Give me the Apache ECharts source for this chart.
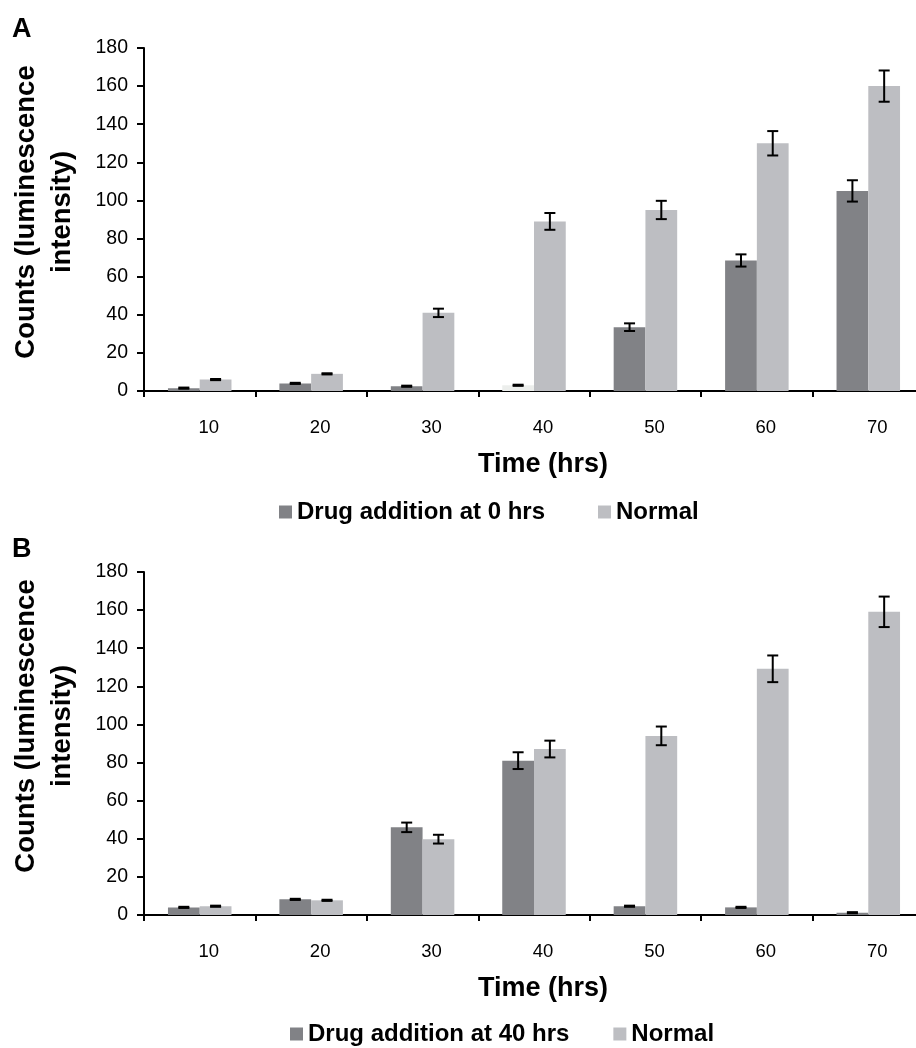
<!DOCTYPE html>
<html>
<head>
<meta charset="utf-8">
<script src="https://cdn.jsdelivr.net/npm/echarts@6/dist/echarts.min.js"></script>
<style>
html,body{margin:0;padding:0;background:#fff;}
#c{width:916px;height:1048px;}
</style>
</head>
<body>
<div id="c"></div>
<script>
const categories = ['10', '20', '30', '40', '50', '60', '70'];
const yTicks = { min: 0, max: 180, interval: 20 };

// Panel A
const seriesNameA = 'Drug addition at 0 hrs';
const drugA = [1.5, 4, 2.5, 3, 33.5, 68.5, 105];
const drugAErr = [0.3, 0.3, 0.3, 0.3, 2, 3.2, 5.6];
const normalA = [6, 9, 41, 89, 95, 130, 160];
const normalAErr = [0.3, 0.3, 2.2, 4.4, 4.8, 6.4, 8.2];

// Panel B
const seriesNameB = 'Drug addition at 40 hrs';
const drugB = [4, 8.2, 46, 81, 4.6, 4, 1.2];
const drugBErr = [0.3, 0.3, 2.5, 4.4, 0.3, 0.3, 0.3];
const normalB = [4.6, 7.7, 39.8, 87.1, 94, 129.2, 159.1];
const normalBErr = [0.3, 0.3, 2.3, 4.4, 4.9, 7, 8];

const FONT = 'Liberation Sans, Arial, Helvetica, sans-serif';
const DARK = '#818286';
const LIGHT = '#bdbec2';
const CAT_GAP = 0.43;

function errData(vals, errs) {
  return vals.map((v, i) => [i, v - errs[i], v + errs[i]]);
}

function errSeries(vals, errs, axisIdx, sign) {
  return {
    type: 'custom',
    xAxisIndex: axisIdx,
    yAxisIndex: axisIdx,
    z: 10,
    silent: true,
    encode: { x: 0, y: [1, 2] },
    data: errData(vals, errs),
    renderItem: function (params, api) {
      const ci = api.value(0);
      const lo = api.coord([ci, api.value(1)]);
      const hi = api.coord([ci, api.value(2)]);
      const catW = api.size([1, 0])[0];
      const bw = catW * (1 - CAT_GAP) / 2;
      const x = lo[0] + sign * bw / 2;
      const cap = 5.5;
      const st = { stroke: '#000', lineWidth: 2 };
      return {
        type: 'group',
        children: [
          { type: 'line', shape: { x1: x, y1: lo[1], x2: x, y2: hi[1] }, style: st },
          { type: 'line', shape: { x1: x - cap, y1: lo[1], x2: x + cap, y2: lo[1] }, style: st },
          { type: 'line', shape: { x1: x - cap, y1: hi[1], x2: x + cap, y2: hi[1] }, style: st }
        ]
      };
    }
  };
}

function xAxisCfg(idx) {
  return {
    type: 'category',
    gridIndex: idx,
    data: categories,
    axisLine: { lineStyle: { color: '#000', width: 2 } },
    axisTick: { show: true, length: 6, lineStyle: { color: '#000', width: 2 } },
    axisLabel: { color: '#000', fontSize: 18.5, fontFamily: FONT, margin: 27, padding: [0, 0, 0, 18] },
    name: 'Time (hrs)',
    nameLocation: 'middle',
    nameGap: 60,
    nameTextStyle: { color: '#000', fontSize: 27, fontWeight: 'bold', fontFamily: FONT, padding: [0, 0, 0, 18] }
  };
}

function yAxisCfg(idx) {
  return {
    type: 'value',
    gridIndex: idx,
    min: yTicks.min, max: yTicks.max, interval: yTicks.interval,
    axisLine: { show: true, lineStyle: { color: '#000', width: 2 } },
    axisTick: { show: true, length: 7, lineStyle: { color: '#000', width: 2 } },
    axisLabel: { color: '#000', fontSize: 19.5, fontFamily: FONT, margin: 16 },
    splitLine: { show: false }
  };
}

function barSeries(name, vals, idx, color, special) {
  return {
    type: 'bar',
    name: name,
    xAxisIndex: idx,
    yAxisIndex: idx,
    barGap: '0%',
    barCategoryGap: (CAT_GAP * 100) + '%',
    itemStyle: { color: color },
    data: vals.map((v, i) => (special && special[i]) ? { value: v, itemStyle: { color: special[i] } } : v)
  };
}

const chart = echarts.init(document.getElementById('c'), null, { renderer: 'canvas' });

const legendText = { color: '#000', fontSize: 24, fontWeight: 'bold', fontFamily: FONT };
const yName = 'Counts (luminescence\nintensity)';

chart.setOption({
  backgroundColor: '#fff',
  animation: false,
  grid: [
    { left: 144, top: 48, width: 780, height: 343, outerBoundsMode: 'none', containLabel: false },
    { left: 144, top: 572, width: 780, height: 343, outerBoundsMode: 'none', containLabel: false }
  ],
  xAxis: [xAxisCfg(0), xAxisCfg(1)],
  yAxis: [yAxisCfg(0), yAxisCfg(1)],
  legend: [
    { data: [seriesNameA, 'Normal'], left: 279, top: 500, icon: 'rect', itemWidth: 13, itemHeight: 13, itemGap: 53, textStyle: legendText, padding: 0 },
    { data: [seriesNameB, 'Normal'], left: 290, top: 1022, icon: 'rect', itemWidth: 13, itemHeight: 13, itemGap: 44, textStyle: legendText, padding: 0 }
  ],
  graphic: [
    { type: 'text', left: 12, top: 16, style: { text: 'A', font: 'bold 27px ' + FONT, fill: '#000' } },
    { type: 'text', left: 12, top: 536, style: { text: 'B', font: 'bold 27px ' + FONT, fill: '#000' } },
    { type: 'text', x: 44, y: 212, rotation: Math.PI / 2,
      style: { text: yName, font: 'bold 27.5px ' + FONT, fill: '#000', align: 'center', verticalAlign: 'middle', lineHeight: 36 } },
    { type: 'text', x: 44, y: 726, rotation: Math.PI / 2,
      style: { text: yName, font: 'bold 27.5px ' + FONT, fill: '#000', align: 'center', verticalAlign: 'middle', lineHeight: 36 } }
  ],
  series: [
    barSeries(seriesNameA, drugA, 0, DARK, [null, null, null, '#eceeec', null, null, null]),
    barSeries('Normal', normalA, 0, LIGHT),
    errSeries(drugA, drugAErr, 0, -1),
    errSeries(normalA, normalAErr, 0, 1),
    barSeries(seriesNameB, drugB, 1, DARK),
    barSeries('Normal', normalB, 1, LIGHT),
    errSeries(drugB, drugBErr, 1, -1),
    errSeries(normalB, normalBErr, 1, 1)
  ]
});
</script>
</body>
</html>
